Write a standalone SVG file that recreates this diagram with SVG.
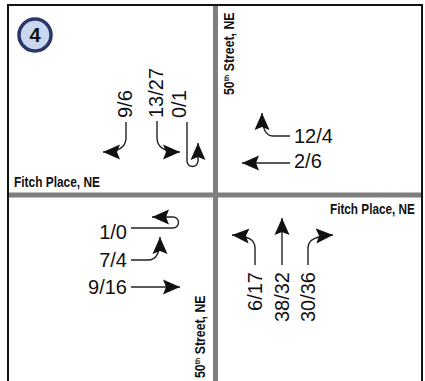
<svg xmlns="http://www.w3.org/2000/svg" width="425" height="381" viewBox="0 0 425 381">
<style>
.num{font-family:"Liberation Sans",Arial,sans-serif;font-size:20px;fill:#111}
.st{font-family:"Liberation Sans",Arial,sans-serif;font-size:14px;font-weight:bold;fill:#111}
.ln{fill:none;stroke:#222;stroke-width:1.4;marker-end:url(#ah)}
.div{stroke:#7f7f7f;stroke-width:5}
</style>
<defs>
<marker id="ah" markerUnits="userSpaceOnUse" markerWidth="20" markerHeight="18" viewBox="0 0 20 18" refX="17" refY="9" orient="auto">
<path d="M0,1.5 L17,9 L0,16.5 L3,9 Z" fill="#111"/>
</marker>
</defs>
<rect width="425" height="381" fill="#fff"/>
<g id="frame">
<line class="div" x1="215.5" y1="5" x2="215.5" y2="381"/>
<line class="div" x1="8" y1="195" x2="422" y2="195"/>
<path d="M8,381 V5 H422 V381" fill="none" stroke="#111" stroke-width="2"/>
</g>
<g id="badge">
<circle cx="35" cy="35" r="16" fill="#c9d8ee" stroke="#2b3768" stroke-width="3.5"/>
<text x="35" y="42" text-anchor="middle" font-family="Liberation Sans,Arial,sans-serif" font-size="20" font-weight="bold" fill="#111">4</text>
</g>
<g id="streets">
<text class="st" transform="translate(14,187) scale(0.85,1)">Fitch Place, NE</text>
<text class="st" transform="translate(330,214) scale(0.84,1)">Fitch Place, NE</text>
<text class="st" transform="translate(234,95) rotate(-90) scale(0.88,1)">50<tspan font-size="8" dy="-5">th</tspan><tspan dy="5"> Street, NE</tspan></text>
<text class="st" transform="translate(205,378) rotate(-90) scale(0.88,1)">50<tspan font-size="8" dy="-5">th</tspan><tspan dy="5"> Street, NE</tspan></text>
</g>
<g id="southbound">
<text class="num" transform="translate(132,118) rotate(-90)">9/6</text>
<text class="num" transform="translate(163,118) rotate(-90)">13/27</text>
<text class="num" transform="translate(186,118) rotate(-90)">0/1</text>
</g>
<g id="westbound">
<text class="num" x="294" y="143">12/4</text>
<text class="num" x="294" y="168">2/6</text>
</g>
<g id="eastbound">
<text class="num" x="127" y="239" text-anchor="end">1/0</text>
<text class="num" x="127" y="267" text-anchor="end">7/4</text>
<text class="num" x="127" y="294" text-anchor="end">9/16</text>
</g>
<g id="northbound">
<text class="num" transform="translate(262,272) rotate(-90)" text-anchor="end">6/17</text>
<text class="num" transform="translate(289,272) rotate(-90)" text-anchor="end">38/32</text>
<text class="num" transform="translate(315,272) rotate(-90)" text-anchor="end">30/36</text>
</g>
<g id="connectors">
<path class="ln" d="M126,122 V138 C126,147 118,152 103,152"/>
<path class="ln" d="M157,121 V138 C157,147 164,152 180,152"/>
<path class="ln" d="M187,122 V161 A5.5,5.5 0 0 0 198,161 V143"/>
<path class="ln" d="M290,136 H273 C266,136 262,130 262,113"/>
<path class="ln" d="M290,163 H242"/>
<path class="ln" d="M131,228 H173 A5.5,5.5 0 0 0 173,217 H152"/>
<path class="ln" d="M131,260 H148 C156,260 160,254 160,237"/>
<path class="ln" d="M131,287 H180"/>
<path class="ln" d="M255,265 V248 C255,240 249,236 232,235"/>
<path class="ln" d="M282,265 V218"/>
<path class="ln" d="M308,265 V248 C308,240 315,236 333,235"/>
</g>
</svg>
